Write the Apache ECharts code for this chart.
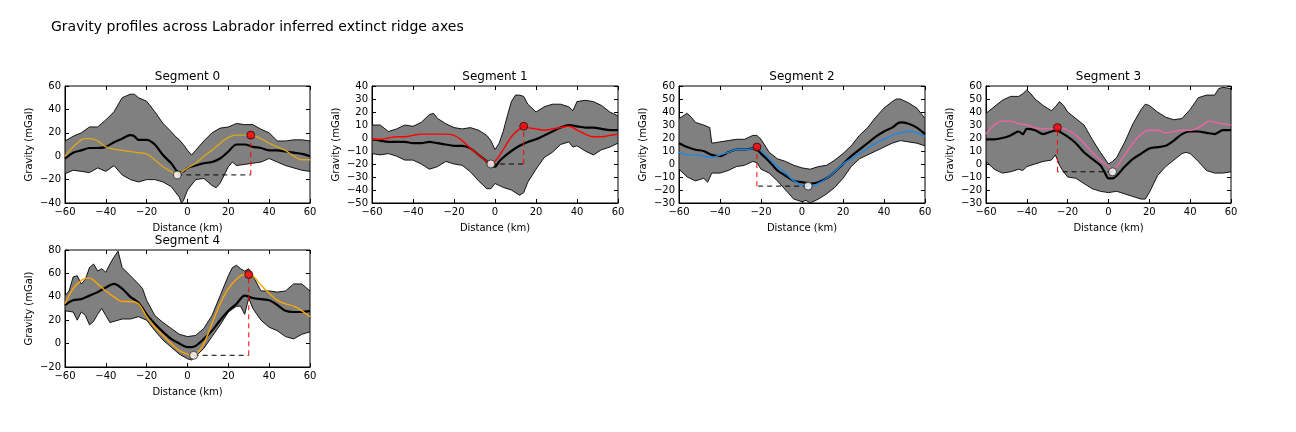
<!DOCTYPE html>
<html><head><meta charset="utf-8">
<script src="https://cdn.jsdelivr.net/npm/echarts@6/dist/echarts.min.js"></script>
<style>html,body{margin:0;padding:0;background:#fff}#c{width:1296px;height:432px}</style>
</head><body><div id="c"></div>
<script>
// ---------- DATA ----------
const mainTitle = "Gravity profiles across Labrador inferred extinct ridge axes";
const segNames = ["Segment 0","Segment 1","Segment 2","Segment 3","Segment 4"];
const xTicks = {min:-60, max:60, interval:20};
const yRanges = [[-40,60,20],[-50,40,10],[-30,60,10],[-30,60,10],[-20,80,20]];
const lineColors = ["#DAA520","#FF0000","#1E88E5","#F062A8","#FFA500"];

const seg0Upper = [[-60,13],[-56,17],[-52,20],[-48,25],[-44,25],[-40,31],[-36,38],[-32,50],[-28,53],[-26,53],[-24,50],[-20,47],[-16,38],[-12,28],[-8,21],[-6,17],[-4,14],[-2,10],[0,5],[2,1],[4,5],[8,13],[12,20],[16,24],[20,25],[24,28],[28,27],[32,27],[36,23],[40,20],[44,13],[48,13],[52,14],[56,14],[60,13]];
const seg0Lower = [[-60,-15],[-56,-12],[-52,-13],[-48,-14],[-44,-10],[-40,-13],[-36,-8],[-32,-16],[-28,-20],[-24,-22],[-20,-20],[-16,-20],[-12,-22],[-8,-26],[-4,-35],[-3,-40],[-2,-38],[0,-29],[4,-20],[8,-19],[12,-25],[14,-27],[16,-23],[18,-16],[20,-9],[22,-5],[24,-8],[28,-7],[32,-6],[36,-5],[40,-2],[44,-5],[48,-8],[52,-10],[56,-12],[60,-13]];
const seg0Mean = [[-60,-2],[-56,3],[-52,5],[-48,7],[-44,7],[-40,8],[-36,12],[-32,15],[-28,18],[-26,17],[-24,14],[-20,14],[-16,10],[-12,1],[-8,-6],[-4,-14],[-2,-13],[0,-10],[4,-8],[8,-6],[12,-5],[16,-2],[20,4],[24,10],[28,10],[32,8],[36,7],[40,5],[44,5],[48,4],[52,3],[56,2],[60,0]];
const seg0Model = [[-60,0],[-56,8],[-52,14],[-50,15],[-48,15],[-44,13],[-40,8],[-36,6],[-32,5],[-28,4],[-24,3],[-20,2],[-16,-3],[-12,-9],[-8,-13],[-5,-16],[-4,-15],[0,-10],[4,-6],[8,0],[12,5],[16,11],[20,16],[24,18],[28,18],[31,18],[36,15],[40,11],[44,8],[48,5],[52,0],[56,-3],[60,-3]];
const seg0Min = [-5,-16], seg0Max = [31,18];

const seg1Upper = [[-60,10],[-56,10],[-52,5],[-48,7],[-44,10],[-40,9],[-36,12],[-32,18],[-30,19],[-28,15],[-24,11],[-20,8],[-16,7],[-12,8],[-8,6],[-4,2],[-2,-2],[0,-9],[2,-4],[4,5],[6,17],[8,28],[10,33],[12,33],[14,32],[16,26],[20,20],[24,24],[28,26],[32,26],[36,24],[38,21],[40,28],[44,29],[48,28],[52,25],[56,20],[60,17]];
const seg1Lower = [[-60,-12],[-56,-13],[-52,-12],[-48,-14],[-44,-17],[-40,-17],[-36,-20],[-32,-24],[-28,-22],[-24,-18],[-20,-20],[-16,-21],[-12,-26],[-8,-33],[-4,-39],[-2,-39],[0,-35],[4,-38],[8,-40],[12,-44],[14,-42],[16,-34],[20,-24],[24,-15],[28,-11],[32,-5],[36,-3],[38,-7],[40,-6],[44,-10],[48,-13],[52,-9],[56,-7],[60,-4]];
const seg1Mean = [[-60,-1],[-56,-2],[-52,-3],[-48,-3],[-44,-3],[-40,-4],[-36,-4],[-32,-3],[-28,-4],[-24,-5],[-20,-6],[-16,-6],[-12,-8],[-8,-13],[-4,-18],[-2,-22],[0,-22],[2,-18],[4,-15],[8,-10],[12,-6],[16,-3],[20,-1],[24,2],[28,5],[32,8],[36,10],[40,9],[44,8],[48,8],[52,7],[56,6],[60,6]];
const seg1Model = [[-60,-1],[-56,-1],[-52,0],[-48,1],[-44,1],[-40,2],[-36,3],[-32,3],[-28,3],[-24,3],[-20,2],[-16,-2],[-12,-8],[-8,-13],[-4,-18],[-2,-20],[0,-18],[4,-9],[8,1],[12,7],[14,9],[16,8],[20,7],[24,6],[28,7],[32,8],[36,9],[40,6],[44,3],[48,1],[52,1],[56,2],[60,3]];
const seg1Min = [-2,-20], seg1Max = [14,9];

const seg2Upper = [[-60,35],[-58,37],[-56,39],[-54,36],[-52,32],[-48,30],[-45,28],[-44,16],[-40,17],[-36,18],[-32,19],[-28,19],[-24,22],[-22,22],[-20,19],[-16,9],[-12,4],[-8,2],[-4,-1],[0,-3],[4,-4],[8,-2],[12,-1],[16,3],[20,8],[24,14],[28,22],[32,28],[36,36],[40,43],[44,48],[46,50],[48,50],[52,47],[56,43],[60,35]];
const seg2Lower = [[-60,-4],[-56,-10],[-52,-13],[-48,-11],[-46,-14],[-44,-7],[-40,-7],[-36,-5],[-32,-2],[-28,-1],[-24,2],[-22,1],[-20,-4],[-16,-7],[-12,-13],[-8,-20],[-4,-27],[0,-29],[2,-28],[4,-30],[8,-27],[12,-23],[16,-18],[20,-11],[24,-2],[28,4],[32,7],[36,10],[40,13],[44,16],[48,18],[52,17],[56,16],[60,14]];
const seg2Mean = [[-60,16],[-56,13],[-52,11],[-48,10],[-44,7],[-40,6],[-36,9],[-32,11],[-28,11],[-24,12],[-22,11],[-20,8],[-16,2],[-12,-5],[-8,-9],[-4,-13],[0,-14],[4,-15],[8,-14],[12,-11],[16,-6],[20,0],[24,6],[28,11],[32,16],[36,21],[40,25],[44,28],[48,32],[52,31],[56,28],[60,23]];
const seg2Model = [[-60,9],[-56,7],[-52,7],[-48,6],[-44,5],[-40,7],[-36,9],[-32,11],[-28,11],[-24,12],[-22,13],[-20,11],[-16,4],[-12,-2],[-8,-7],[-4,-13],[0,-16],[4,-17],[8,-15],[12,-11],[16,-6],[20,0],[24,4],[28,8],[32,12],[36,16],[40,19],[44,22],[48,24],[52,25],[56,24],[60,21]];
const seg2Min = [3,-17], seg2Max = [-22,13];

const seg3Upper = [[-60,39],[-56,44],[-52,49],[-48,52],[-44,52],[-42,54],[-40,57],[-38,54],[-36,50],[-32,45],[-28,41],[-26,44],[-24,48],[-22,45],[-20,40],[-16,35],[-12,30],[-8,19],[-4,9],[0,0],[2,2],[4,5],[8,17],[12,31],[16,42],[18,46],[20,45],[24,40],[28,36],[32,34],[36,35],[40,42],[44,51],[48,53],[52,53],[54,58],[56,59],[60,58]];
const seg3Lower = [[-60,2],[-56,-4],[-52,-7],[-48,-6],[-44,-4],[-42,-5],[-40,-2],[-36,0],[-32,2],[-28,3],[-26,7],[-24,-1],[-22,-6],[-20,-10],[-16,-11],[-12,-15],[-8,-19],[-4,-21],[0,-22],[4,-21],[8,-23],[12,-25],[16,-27],[18,-27],[20,-22],[24,-9],[28,-2],[32,3],[36,8],[38,9],[40,8],[44,2],[48,-5],[52,-7],[56,-7],[60,-6]];
const seg3Mean = [[-60,19],[-56,19],[-52,20],[-48,22],[-44,25],[-42,23],[-40,27],[-36,26],[-32,23],[-28,25],[-25,26],[-24,25],[-20,21],[-16,16],[-12,9],[-8,4],[-4,-1],[-2,-6],[0,-11],[2,-11],[4,-9],[8,-2],[12,4],[16,8],[20,12],[24,13],[28,14],[32,18],[36,23],[40,25],[44,25],[48,24],[52,23],[56,26],[60,26]];
const seg3Model = [[-60,23],[-56,30],[-52,33],[-48,33],[-44,31],[-40,30],[-36,28],[-32,27],[-28,27],[-25,28],[-24,28],[-20,26],[-16,22],[-12,16],[-8,9],[-4,3],[0,-2],[2,-6],[4,-2],[8,7],[12,16],[16,23],[20,26],[24,26],[28,24],[32,25],[36,26],[40,26],[44,28],[48,32],[50,33],[52,32],[56,31],[60,30]];
const seg3Min = [2,-6], seg3Max = [-25,28];

const seg4Upper = [[-60,41],[-58,45],[-56,57],[-54,58],[-52,51],[-50,55],[-48,65],[-46,68],[-44,62],[-42,64],[-40,61],[-38,68],[-36,74],[-34,79],[-32,65],[-28,58],[-24,51],[-22,47],[-20,37],[-16,24],[-12,18],[-8,13],[-4,8],[0,6],[4,7],[8,13],[12,24],[16,41],[20,58],[22,65],[24,67],[26,64],[28,62],[30,64],[32,58],[36,45],[40,45],[44,44],[48,45],[52,51],[56,51],[60,45]];
const seg4Lower = [[-60,28],[-56,27],[-54,20],[-52,27],[-50,24],[-48,16],[-46,19],[-44,25],[-42,30],[-40,24],[-38,18],[-34,20],[-32,21],[-28,21],[-24,23],[-20,20],[-16,11],[-12,3],[-8,-3],[-4,-9],[0,-13],[2,-14],[4,-11],[8,-4],[12,6],[16,16],[20,27],[24,32],[26,32],[28,25],[30,39],[32,30],[36,20],[40,14],[44,11],[48,6],[52,4],[56,8],[60,10]];
const seg4Mean = [[-60,33],[-56,37],[-52,38],[-48,41],[-44,44],[-40,48],[-36,51],[-32,47],[-28,40],[-24,35],[-20,25],[-16,17],[-12,10],[-8,4],[-4,0],[0,-3],[2,-3],[4,-2],[8,4],[12,11],[16,20],[20,28],[24,34],[28,41],[32,39],[36,38],[40,37],[44,33],[48,28],[52,27],[56,27],[60,28]];
const seg4Model = [[-60,34],[-56,47],[-52,54],[-49,56],[-48,56],[-44,51],[-40,45],[-36,40],[-32,36],[-28,36],[-24,34],[-20,23],[-16,14],[-12,7],[-8,0],[-4,-6],[0,-9],[3,-11],[4,-10],[8,0],[12,17],[16,34],[20,47],[24,55],[28,59],[30,59],[32,58],[36,50],[40,43],[44,37],[48,34],[52,32],[56,28],[60,23]];
const seg4Min = [3,-10], seg4Max = [30,59];

const uppers = [seg0Upper,seg1Upper,seg2Upper,seg3Upper,seg4Upper];
const lowers = [seg0Lower,seg1Lower,seg2Lower,seg3Lower,seg4Lower];
const means  = [seg0Mean,seg1Mean,seg2Mean,seg3Mean,seg4Mean];
const models = [seg0Model,seg1Model,seg2Model,seg3Model,seg4Model];
const mins   = [seg0Min,seg1Min,seg2Min,seg3Min,seg4Min];
const maxs   = [seg0Max,seg1Max,seg2Max,seg3Max,seg4Max];

// ---------- LAYOUT ----------
const grids = [
  {left:65, top:86, width:245, height:117},
  {left:372, top:86, width:246, height:117},
  {left:679, top:86, width:246, height:117},
  {left:986, top:86, width:245, height:117},
  {left:65, top:250, width:245, height:117}
];
const FONT = "DejaVu Sans";
const fmt = v => String(v).replace('-', '\u2212');
const tickStyle = {show:true, inside:true, length:4, lineStyle:{color:'#000'}};
const chart = echarts.init(document.getElementById('c'));
const option = {
  animation:false,
  backgroundColor:'#fff',
  textStyle:{fontFamily:FONT},
  title:[{text:mainTitle, left:51, top:20, padding:0, textStyle:{fontSize:14, fontWeight:'normal', color:'#000', fontFamily:FONT}}]
    .concat(segNames.map((n,i)=>({text:n, left:grids[i].left+grids[i].width/2, top:grids[i].top-15, padding:0, textAlign:'center',
      textStyle:{fontSize:12, fontWeight:'normal', color:'#000', fontFamily:FONT}}))),
  grid: grids.map(g=>Object.assign({show:true, borderColor:'#000', borderWidth:1, backgroundColor:'transparent', containLabel:false}, g)),
  xAxis: grids.map((g,i)=>({type:'value', gridIndex:i, position:'bottom', min:xTicks.min, max:xTicks.max, interval:xTicks.interval,
    name:'Distance (km)', nameLocation:'middle', nameGap:20, nameTextStyle:{fontSize:10, color:'#000', fontFamily:FONT},
    axisLine:{show:true, onZero:false, lineStyle:{color:'#000'}}, axisTick:tickStyle,
    axisLabel:{fontSize:10, color:'#000', margin:4, fontFamily:FONT, formatter:fmt}, splitLine:{show:false}}))
    .concat(grids.map((g,i)=>({type:'value', gridIndex:i, position:'top', min:xTicks.min, max:xTicks.max, interval:xTicks.interval,
    axisLine:{show:false, onZero:false}, axisTick:tickStyle, axisLabel:{show:false}, splitLine:{show:false}}))),
  yAxis: grids.map((g,i)=>({type:'value', gridIndex:i, position:'left', min:yRanges[i][0], max:yRanges[i][1], interval:yRanges[i][2],
    name:'Gravity (mGal)', nameLocation:'middle', nameGap:31, nameTextStyle:{fontSize:10, color:'#000', fontFamily:FONT},
    axisLine:{show:true, onZero:false, lineStyle:{color:'#000'}}, axisTick:tickStyle,
    axisLabel:{fontSize:10, color:'#000', margin:4, fontFamily:FONT, formatter:fmt}, splitLine:{show:false}}))
    .concat(grids.map((g,i)=>({type:'value', gridIndex:i, position:'right', min:yRanges[i][0], max:yRanges[i][1], interval:yRanges[i][2],
    axisLine:{show:false, onZero:false}, axisTick:tickStyle, axisLabel:{show:false}, splitLine:{show:false}}))),
  series:[]
};
for (let i=0;i<5;i++){
  const up = uppers[i], lo = lowers[i];
  option.series.push({
    type:'custom', xAxisIndex:i, yAxisIndex:i, data:[[0,0]], clip:true, silent:true, z:1,
    renderItem:(params, api)=>{
      const pts = up.map(p=>api.coord(p)).concat(lo.slice().reverse().map(p=>api.coord(p)));
      return {type:'polygon', shape:{points:pts}, style:{fill:'#808080', stroke:'#000', lineWidth:0.9}};
    }
  });
  option.series.push({type:'line', xAxisIndex:i, yAxisIndex:i, data:means[i], showSymbol:false, smooth:0.3, z:3,
    lineStyle:{color:'#000', width:2.2}, silent:true});
  option.series.push({type:'line', xAxisIndex:i, yAxisIndex:i, data:models[i], showSymbol:false, smooth:0.4, z:4,
    lineStyle:{color:lineColors[i], width:1.4}, silent:true});
  const mn = mins[i], mx = maxs[i];
  option.series.push({type:'line', xAxisIndex:i, yAxisIndex:i, data:[mn,[mx[0],mn[1]]], showSymbol:false, z:5,
    lineStyle:{color:'#000', width:1, type:[5,4]}, silent:true});
  option.series.push({type:'line', xAxisIndex:i, yAxisIndex:i, data:[[mx[0],mn[1]],mx], showSymbol:false, z:5,
    lineStyle:{color:'#FF0000', width:1, type:[5,4]}, silent:true});
  option.series.push({type:'scatter', xAxisIndex:i, yAxisIndex:i, data:[mn], symbolSize:8, z:6,
    itemStyle:{color:'#fff', borderColor:'#000', borderWidth:0.8}, silent:true});
  option.series.push({type:'scatter', xAxisIndex:i, yAxisIndex:i, data:[mx], symbolSize:8, z:6,
    itemStyle:{color:'#FF0000', borderColor:'#000', borderWidth:0.8}, silent:true});
}
chart.setOption(option);
</script>
</body></html>
